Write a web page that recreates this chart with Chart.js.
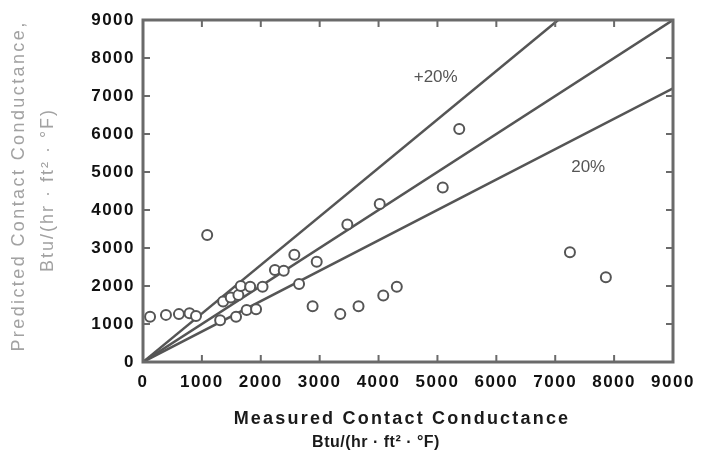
<!DOCTYPE html>
<html>
<head>
<meta charset="utf-8">
<script src="https://cdn.jsdelivr.net/npm/chart.js@4.4.1/dist/chart.umd.min.js"></script>
<style>
  html, body { margin: 0; padding: 0; background: #fff; }
  canvas { display: block; }
</style>
</head>
<body>
<canvas id="chart" width="702" height="464"></canvas>
<script>
// measured vs predicted contact conductance, Btu/(hr ft2 F)
var measured  = [120, 390, 610, 790, 900, 1090, 1310, 1360, 1490, 1580, 1620, 1660, 1760, 1820, 1920, 2030,
                 2240, 2390, 2570, 2650, 2880, 2950, 3350, 3470, 3660, 4020, 4080, 4310, 5090, 5370, 7250, 7860];
var predicted = [1190, 1240, 1260, 1280, 1210, 3340, 1100, 1590, 1700, 1190, 1760, 2000, 1370, 1980, 1390, 1980,
                 2420, 2400, 2820, 2050, 1470, 2640, 1260, 3620, 1470, 4160, 1750, 1980, 4590, 6130, 2890, 2230];

// +20% / perfect / -20% guide lines
var upperX = [0, 7050], upperY = [0, 9000];
var equalX = [0, 9000], equalY = [0, 9000];
var lowerX = [0, 9000], lowerY = [0, 7200];

var axisMin = 0, axisMax = 9000, axisStep = 1000;

var bandText = ['+20%', '20%'];
var bandX = [4970, 7560];
var bandY = [7500, 5130];

var xTitle = ['Measured Contact Conductance', 'Btu/(hr · ft² · °F)'];
var yTitle = ['Predicted Contact Conductance,', 'Btu/(hr · ft² · °F)'];

function pairs(xs, ys) {
    return xs.map(function(v, i) { return {x: v, y: ys[i]}; });
}

var FONT = "'Liberation Sans', Arial, sans-serif";

var framePlugin = {
    id: 'frame',
    beforeDraw: function(chart) {
        chart.ctx.letterSpacing = '1.5px';
    },
    afterDraw: function(chart) {
        var ctx = chart.ctx;
        var a = chart.chartArea;
        var sx = chart.scales.x, sy = chart.scales.y;
        ctx.save();
        ctx.letterSpacing = '0px';

        // box with inward ticks on every side
        ctx.strokeStyle = '#6a6a6a';
        ctx.lineWidth = 3;
        ctx.strokeRect(a.left, a.top, a.right - a.left, a.bottom - a.top);
        ctx.lineWidth = 2;
        ctx.beginPath();
        sx.ticks.forEach(function(t) {
            var px = sx.getPixelForValue(t.value);
            ctx.moveTo(px, a.bottom); ctx.lineTo(px, a.bottom - 7);
            ctx.moveTo(px, a.top); ctx.lineTo(px, a.top + 7);
        });
        sy.ticks.forEach(function(t) {
            var py = sy.getPixelForValue(t.value);
            ctx.moveTo(a.left, py); ctx.lineTo(a.left + 7, py);
            ctx.moveTo(a.right, py); ctx.lineTo(a.right - 7, py);
        });
        ctx.stroke();

        // band labels
        ctx.fillStyle = '#555';
        ctx.font = '17px ' + FONT;
        ctx.textAlign = 'center';
        ctx.textBaseline = 'middle';
        bandText.forEach(function(s, i) {
            ctx.fillText(s, sx.getPixelForValue(bandX[i]), sy.getPixelForValue(bandY[i]));
        });

        // x title
        ctx.fillStyle = '#1a1a1a';
        ctx.font = 'bold 18px ' + FONT;
        ctx.letterSpacing = '2.2px';
        ctx.fillText(xTitle[0], 402, 419);
        ctx.font = 'bold 16px ' + FONT;
        ctx.letterSpacing = '0.5px';
        ctx.fillText(xTitle[1], 376, 443);

        // y title, rotated
        ctx.fillStyle = '#a2a2a2';
        ctx.font = '18px ' + FONT;
        ctx.letterSpacing = '2.4px';
        ctx.translate(19, 186);
        ctx.rotate(-Math.PI / 2);
        ctx.fillText(yTitle[0], 0, 0);
        ctx.letterSpacing = '2px';
        ctx.fillText(yTitle[1], -4, 29);
        ctx.restore();
    }
};

function plainLabel(value) {
    return String(value);
}

var ctx = document.getElementById('chart');

var chart = new Chart(ctx, {
    type: 'scatter',
    data: {
        datasets: [
            {
                label: 'Data',
                data: pairs(measured, predicted),
                pointStyle: 'circle',
                pointRadius: 5,
                borderWidth: 2,
                borderColor: '#555',
                backgroundColor: '#fff'
            },
            {
                label: '+20%',
                data: pairs(upperX, upperY),
                showLine: true,
                pointRadius: 0,
                borderColor: '#555',
                borderWidth: 2.5
            },
            {
                label: '0%',
                data: pairs(equalX, equalY),
                showLine: true,
                pointRadius: 0,
                borderColor: '#555',
                borderWidth: 2.5
            },
            {
                label: '-20%',
                data: pairs(lowerX, lowerY),
                showLine: true,
                pointRadius: 0,
                borderColor: '#555',
                borderWidth: 2.5
            }
        ]
    },
    options: {
        responsive: false,
        animation: false,
        layout: {
            padding: { top: 20, right: 29, left: 0, bottom: 0 }
        },
        plugins: {
            legend: { display: false },
            tooltip: { enabled: false }
        },
        scales: {
            x: {
                type: 'linear',
                min: axisMin,
                max: axisMax,
                grid: { display: false, drawTicks: false },
                border: { display: false },
                ticks: {
                    stepSize: axisStep,
                    autoSkip: false,
                    maxRotation: 0,
                    padding: 10,
                    color: '#111',
                    font: { family: FONT, size: 17, weight: 'bold' },
                    callback: plainLabel
                },
                afterFit: function(scale) {
                    scale.height = 102;
                    scale.paddingLeft = 0;
                    scale.paddingRight = 0;
                }
            },
            y: {
                type: 'linear',
                min: axisMin,
                max: axisMax,
                grid: { display: false, drawTicks: false },
                border: { display: false },
                ticks: {
                    stepSize: axisStep,
                    autoSkip: false,
                    padding: 8,
                    color: '#111',
                    font: { family: FONT, size: 17, weight: 'bold' },
                    callback: plainLabel
                },
                afterFit: function(scale) {
                    scale.width = 143;
                    scale.paddingTop = 0;
                    scale.paddingBottom = 0;
                }
            }
        }
    },
    plugins: [framePlugin]
});
</script>
</body>
</html>
